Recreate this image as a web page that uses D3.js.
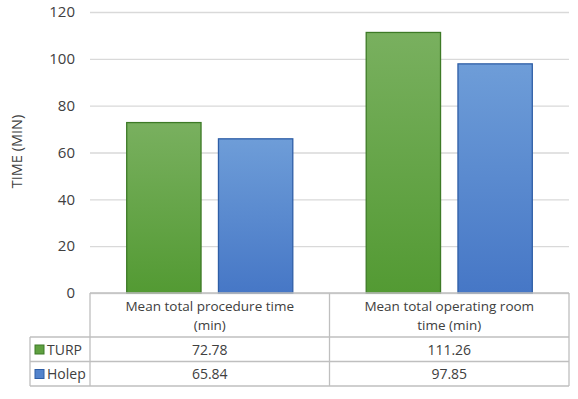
<!DOCTYPE html>
<html>
<head>
<meta charset="utf-8">
<script src="https://cdn.jsdelivr.net/npm/d3@7"></script>
<style>
  body { margin: 0; background: #fff; }
  text { font-family: "Open Sans", sans-serif; fill: #404040; }
</style>
</head>
<body>
<div id="chart"></div>
<script>
// data
var categories = ["Mean total procedure time (min)", "Mean total operating room time (min)"];
var categoryLines = [["Mean total procedure time", "(min)"], ["Mean total operating room", "time (min)"]];
var seriesNames = ["TURP", "Holep"];
var turpValues = [72.78, 111.26];
var holepValues = [65.84, 97.85];
var yTicks = [0, 20, 40, 60, 80, 100, 120];

var svgWidth = 578, svgHeight = 399;
var margin = { top: 12, left: 90, right: 9, bottom: 106 };
var width = svgWidth - margin.left - margin.right;
var height = svgHeight - margin.top - margin.bottom;

var svg = d3.select("#chart").append("svg")
  .attr("width", svgWidth)
  .attr("height", svgHeight);

// gradients
var defs = svg.append("defs");
function grad(id, top, bottom) {
  var g = defs.append("linearGradient").attr("id", id)
    .attr("x1", 0).attr("y1", 0).attr("x2", 0).attr("y2", 1);
  g.append("stop").attr("offset", "0%").attr("stop-color", top);
  g.append("stop").attr("offset", "100%").attr("stop-color", bottom);
}
grad("gGreen", "#79b05f", "#539a33");
grad("gBlue", "#6e9dd8", "#4677c6");

var fills = ["url(#gGreen)", "url(#gBlue)"];
var strokes = ["#3d7a26", "#2e5ea6"];
var swatch = ["#5fa040", "#5283cc"];

var chartGroup = svg.append("g")
  .attr("transform", `translate(${margin.left}, ${margin.top})`);

var x0 = d3.scaleBand().domain(categories).range([0, width]).paddingInner(0).paddingOuter(0);
var x1 = d3.scaleBand().domain(seriesNames).range([0, x0.bandwidth()]).paddingInner(0.19).paddingOuter(0.4);
var y = d3.scaleLinear().domain([0, 120]).range([height, 0]);

// gridlines
chartGroup.append("g")
  .call(d3.axisLeft(y).tickValues(yTicks).tickSize(-width).tickFormat(""))
  .call(g => g.select(".domain").remove())
  .call(g => g.selectAll("line").attr("stroke", "#d9d9d9").attr("stroke-width", 1.3));

// y labels
chartGroup.append("g")
  .call(d3.axisLeft(y).tickValues(yTicks).tickSize(0).tickPadding(15))
  .call(g => g.select(".domain").remove())
  .call(g => g.selectAll("text").style("font-size", "15px").attr("fill", "#404040"));

svg.append("text")
  .attr("transform", `translate(22, ${margin.top + height / 2 - 1}) rotate(-90)`)
  .attr("text-anchor", "middle")
  .style("font-size", "14.5px")
  .text("TIME (MIN)");

// bars
var series = [turpValues, holepValues];
var groups = chartGroup.selectAll(".cat")
  .data(categories)
  .enter().append("g")
  .attr("transform", d => `translate(${x0(d)},0)`);

groups.selectAll("rect")
  .data((d, i) => seriesNames.map((s, j) => ({ s: s, j: j, v: series[j][i] })))
  .enter().append("rect")
  .attr("x", d => x1(d.s))
  .attr("width", x1.bandwidth())
  .attr("y", d => y(d.v))
  .attr("height", d => height - y(d.v))
  .attr("fill", d => fills[d.j])
  .attr("stroke", d => strokes[d.j])
  .attr("stroke-width", 1.3);

// data table
var tableLeft = 30;
var rowTop = margin.top + height;
var headerH = 44, rowH = 24.5;
var borderColor = "#bfbfbf";
var table = svg.append("g");
var tRight = margin.left + width;

// header
table.append("line").attr("x1", margin.left).attr("x2", tRight).attr("y1", rowTop).attr("y2", rowTop);
categories.forEach(function (c, i) {
  var cx = margin.left + x0(c) + x0.bandwidth() / 2;
  categoryLines[i].forEach(function (t, k) {
    table.append("text")
      .attr("x", cx).attr("y", rowTop + 18 + k * 19)
      .attr("text-anchor", "middle")
      .style("font-size", "13.5px")
      .text(t);
  });
});
// row lines
for (var r = 0; r <= seriesNames.length; r++) {
  var yy = rowTop + headerH + r * rowH;
  table.append("line").attr("x1", tableLeft).attr("x2", tRight).attr("y1", yy).attr("y2", yy);
}
// verticals
table.append("line").attr("x1", tableLeft).attr("x2", tableLeft)
  .attr("y1", rowTop + headerH).attr("y2", rowTop + headerH + 2 * rowH);
[margin.left, margin.left + x0.bandwidth(), tRight].forEach(function (vx) {
  table.append("line").attr("x1", vx).attr("x2", vx)
    .attr("y1", rowTop).attr("y2", rowTop + headerH + 2 * rowH);
});
table.selectAll("line").attr("stroke", borderColor).attr("stroke-width", 1.3);

seriesNames.forEach(function (s, j) {
  var ry = rowTop + headerH + j * rowH;
  table.append("rect")
    .attr("x", 35).attr("y", ry + 8).attr("width", 9).attr("height", 9)
    .attr("fill", swatch[j]).attr("stroke", strokes[j]).attr("stroke-width", 1);
  table.append("text")
    .attr("x", 47).attr("y", ry + 17.5)
    .style("font-size", "14px")
    .text(s);
  series[j].forEach(function (v, i) {
    table.append("text")
      .attr("x", margin.left + x0(categories[i]) + x0.bandwidth() / 2)
      .attr("y", ry + 17.5)
      .attr("text-anchor", "middle")
      .style("font-size", "14px")
      .text(v.toFixed(2));
  });
});
</script>
</body>
</html>
